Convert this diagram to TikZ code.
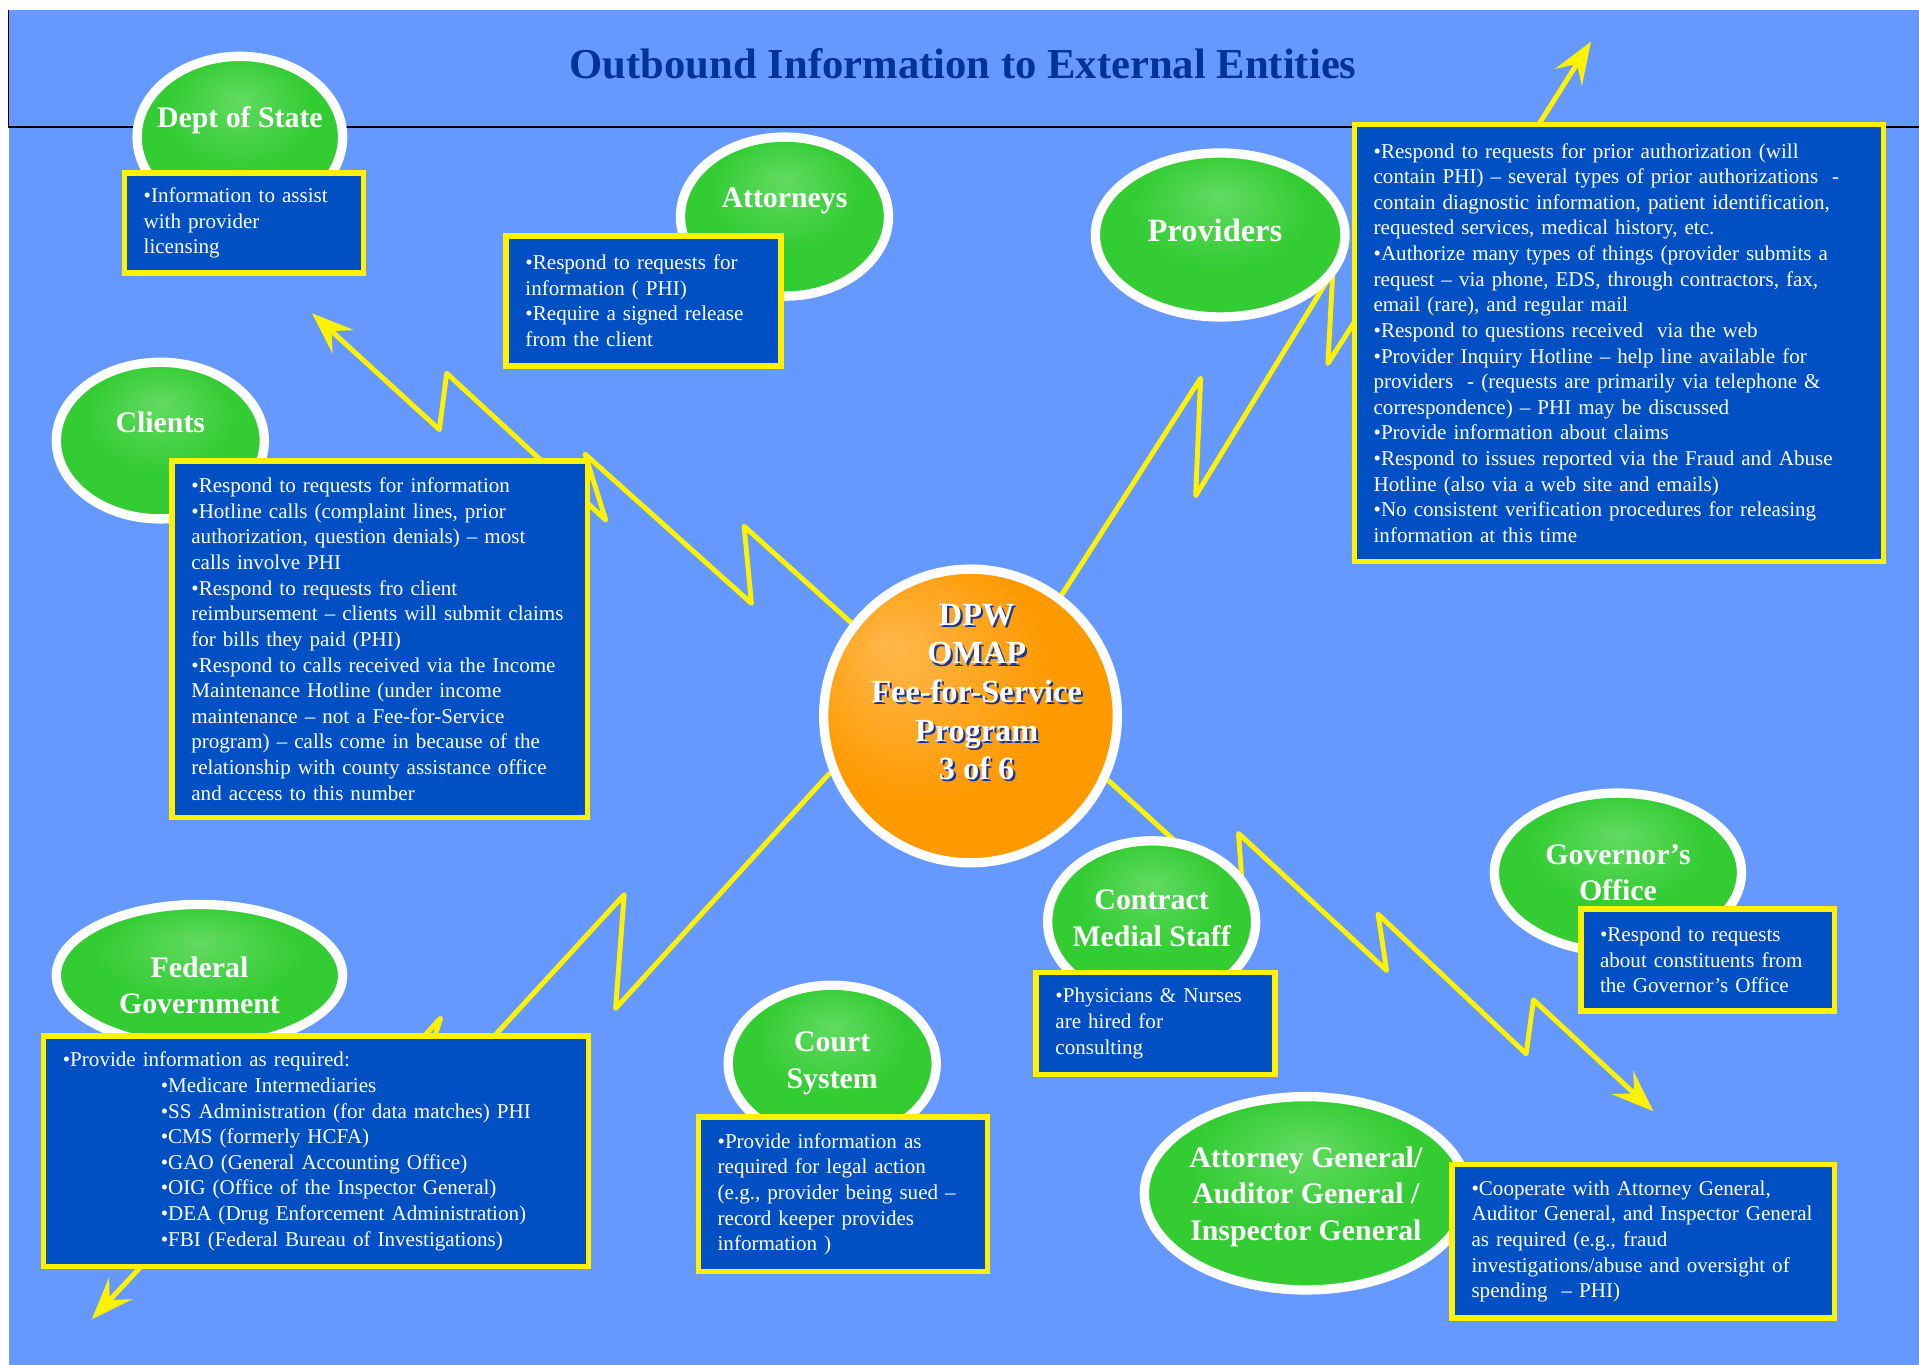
\documentclass[tikz,border=0pt]{standalone}
\usepackage{fontspec}
\setmainfont{Liberation Serif}
\usetikzlibrary{shapes.geometric,arrows.meta}

\definecolor{bgblue}{HTML}{6699FF}
\definecolor{boxblue}{HTML}{0050C4}
\definecolor{blobgreen}{HTML}{33CC33}
\definecolor{bloblight}{HTML}{62DA62}
\definecolor{hubor}{HTML}{FF9900}
\definecolor{hublight}{HTML}{FFB84D}
\definecolor{headblue}{HTML}{003399}
\definecolor{shadowblue}{HTML}{1A3399}

\pgfdeclareradialshading{blobshade}{\pgfpoint{0bp}{12bp}}{color(0bp)=(bloblight); color(18bp)=(blobgreen); color(50bp)=(blobgreen)}
\pgfdeclareradialshading{hubshade}{\pgfpoint{-14bp}{12bp}}{color(0bp)=(hublight); color(22bp)=(hubor); color(50bp)=(hubor)}

\pgfdeclarelayer{back}
\pgfdeclarelayer{bolts}
\pgfsetlayers{back,bolts,main}

\newcommand{\infofont}{\fontsize{12}{14.6}\selectfont}
\newcommand{\blobfont}{\fontsize{17}{20.8}\selectfont\bfseries}
\newcommand{\hubfont}{\fontsize{18.4}{22}\selectfont\bfseries}
\newcommand{\bannerfont}{\fontsize{24.3}{28}\selectfont\bfseries}

\tikzset{
  info/.style={rectangle, draw=yellow, line width=3.2pt, fill=boxblue, text=white,
    font=\infofont, align=left, anchor=north west, inner xsep=11pt, inner ysep=0pt},
  blob/.style={ellipse, draw=white, line width=5.3pt, shade, shading=blobshade},
  hub/.style={circle, draw=white, line width=5.3pt, shade, shading=hubshade,
    inner sep=0pt, minimum size=5.88cm},
  hubtext/.style={text=white, font=\hubfont, align=center},
  bolt/.style={draw=yellow, line width=2.8pt, line join=round,
    -{Stealth[length=24pt,width=18pt,inset=9pt]}}
}

\begin{document}
\begin{tikzpicture}[
		x=0.0245cm, y=-0.0245cm,
		every label/.append style={text=white, font=\blobfont, align=center}
	]
  \useasboundingbox (0,0) rectangle (1568,1115);
  \begin{pgfonlayer}{back}
    \fill[white] (0,0) rectangle (1568,1115);
    \fill[bgblue] (7,8) rectangle (1568,1115);
    \draw[line width=1pt] (7,8) -- (7,104) -- (1568,104);
  \end{pgfonlayer}

  \node (title) [text=headblue, font=\bannerfont] at (787,52) {Outbound Information to External Entities};

  % external entities
  \node (dept) [blob, minimum width=4.116cm, minimum height=3.234cm, label={[yshift=9.6pt]center:Dept of State}] at (196,112) {};
  \node (attorneys) [blob, minimum width=4.165cm, minimum height=3.185cm, label={[yshift=8.9pt]center:Attorneys}] at (641,177) {};
  \node (providers) [blob, minimum width=4.998cm, minimum height=3.283cm, label={[xshift=-3pt, yshift=2.8pt, font=\fontsize{18.5}{22}\selectfont\bfseries]center:Providers}] at (997,192) {};
  \node (clients) [blob, minimum width=4.165cm, minimum height=3.136cm, label={[yshift=10.5pt]center:Clients}] at (131,360) {};
  \node (federal) [blob, minimum width=5.733cm, minimum height=2.842cm, label={[yshift=-5.6pt]center:Federal\\Government}] at (163,797) {};
  \node (court) [blob, minimum width=4.165cm, minimum height=3.136cm, label={center:Court\\System}] at (680,869) {};
  \node (contract) [blob, minimum width=4.165cm, minimum height=3.234cm, label={[yshift=2pt]center:Contract\\Medial Staff}] at (941,753) {};
  \node (governor) [blob, minimum width=4.949cm, minimum height=3.185cm, label={center:Governor’s\\Office}] at (1322,713) {};
  \node (general) [blob, minimum width=6.468cm, minimum height=3.871cm, label={[yshift=-2pt]center:Attorney General/\\Auditor General /\\Inspector General}] at (1067,975) {};

  % program in the middle
  \node (hub) [hub] at (793,585) {};
  \node (hub-shadow) [hubtext, text=shadowblue] at ([xshift=4.7pt,yshift=12.4pt]hub.center) {DPW\\OMAP\\Fee-for-Service\\Program\\3 of 6};
  \node (hub-label) [hubtext] at ([xshift=3.5pt,yshift=13.6pt]hub.center) {DPW\\OMAP\\Fee-for-Service\\Program\\3 of 6};

  % what goes out to each
  \node (dept-box) [info, minimum width=4.787cm, minimum height=1.994cm, text width=4.014cm] at (99.3,139.3)
    {•Information to assist\\with provider\\licensing};
  \node (attorneys-box) [info, minimum width=5.498cm, minimum height=2.607cm, text width=4.725cm] at (411.3,190.3)
    {•Respond to requests for\\information ( PHI)\\•Require a signed release\\from the client};
  \node (providers-box) [info, minimum width=10.594cm, minimum height=8.756cm, text width=9.821cm] at (1104.3,99.3)
    {•Respond to requests for prior authorization (will\\
     contain PHI) – several types of prior authorizations\ \ -\\
     contain diagnostic information, patient identification,\\
     requested services, medical history, etc.\\
     •Authorize many types of things (provider submits a\\
     request – via phone, EDS, through contractors, fax,\\
     email (rare), and regular mail\\
     •Respond to questions received\ \ via the web\\
     •Provider Inquiry Hotline – help line available for\\
     providers\ \ - (requests are primarily via telephone \&\\
     correspondence) – PHI may be discussed\\
     •Provide information about claims\\
     •Respond to issues reported via the Fraud and Abuse\\
     Hotline (also via a web site and emails)\\
     •No consistent verification procedures for releasing\\
     information at this time};
  \node (clients-box) [info, minimum width=8.315cm, minimum height=7.139cm, text width=7.542cm] at (138.3,374.3)
    {•Respond to requests for information\\
     •Hotline calls (complaint lines, prior\\
     authorization, question denials) – most\\
     calls involve PHI\\
     •Respond to requests fro client\\
     reimbursement – clients will submit claims\\
     for bills they paid (PHI)\\
     •Respond to calls received via the Income\\
     Maintenance Hotline (under income\\
     maintenance – not a Fee-for-Service\\
     program) – calls come in because of the\\
     relationship with county assistance office\\
     and access to this number};
  \node (federal-box) [info, minimum width=10.912cm, minimum height=4.616cm, text width=10.139cm] at (33.3,844.3)
    {•Provide information as required:\\
     \hspace*{55.8pt}•Medicare Intermediaries\\
     \hspace*{55.8pt}•SS Administration (for data matches) PHI\\
     \hspace*{55.8pt}•CMS (formerly HCFA)\\
     \hspace*{55.8pt}•GAO (General Accounting Office)\\
     \hspace*{55.8pt}•OIG (Office of the Inspector General)\\
     \hspace*{55.8pt}•DEA (Drug Enforcement Administration)\\
     \hspace*{55.8pt}•FBI (Federal Bureau of Investigations)};
  \node (court-box) [info, minimum width=5.792cm, minimum height=3.097cm, text width=5.019cm] at (568.3,910.3)
    {•Provide information as\\required for legal action\\(e.g., provider being sued –\\record keeper provides\\information )};
  \node (contract-box) [info, minimum width=4.787cm, minimum height=2.043cm, text width=4.014cm] at (844.3,792.3)
    {•Physicians \& Nurses\\are hired for\\consulting};
  \node (governor-box) [info, minimum width=5.081cm, minimum height=2.043cm, text width=4.308cm] at (1289.3,740.3)
    {•Respond to requests\\about constituents from\\the Governor’s Office};
  \node (general-box) [info, minimum width=7.654cm, minimum height=3.072cm, text width=6.881cm] at (1184.3,949.3)
    {•Cooperate with Attorney General,\\Auditor General, and Inspector General\\as required (e.g., fraud\\investigations/abuse and oversight of\\spending\ \ – PHI)};

  % lightning bolts out of the program
  \begin{pgfonlayer}{bolts}
    \coordinate (dept-tip) at (255,256);
    \coordinate (prov-tip) at (1300,34);
    \coordinate (fed-tip) at (75,1078);
    \coordinate (gen-tip) at (1351,908);
    \draw[bolt] (hub.142) -- (608,430) -- (614,493) -- (478,371) -- (495,425)
      -- (365,305) -- (359,351) -- (dept-tip);
    \draw[bolt] (hub.53) -- (981,309) -- (977,405) -- (1089,222) -- (1085,297)
      -- (1165,172) -- (1170,240) -- (prov-tip);
    \draw[bolt] (hub.202) -- (503,824) -- (510,731) -- (330,927) -- (360,832)
      -- (250,951) -- (255,885) -- (fed-tip);
    \draw[bolt] (hub.335) -- (1016,738) -- (1012,681) -- (1133,793) -- (1126,747)
      -- (1247,861) -- (1253,817) -- (gen-tip);
  \end{pgfonlayer}
\end{tikzpicture}
\end{document}
